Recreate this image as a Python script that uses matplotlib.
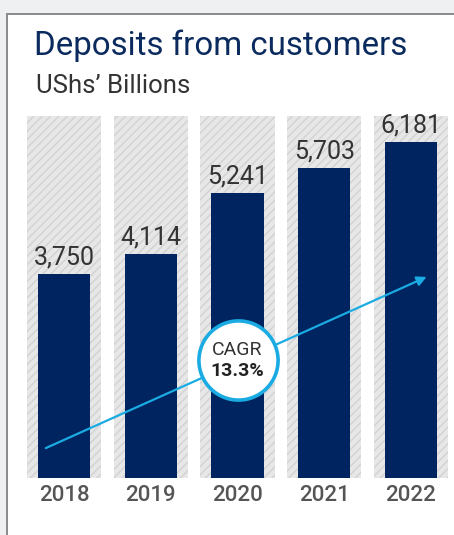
import matplotlib.pyplot as plt
from matplotlib.patches import Rectangle

years = ['2018', '2019', '2020', '2021', '2022']
deposits = [3750, 4114, 5241, 5703, 6181]
value_labels = ['3,750', '4,114', '5,241', '5,703', '6,181']
cagr_text = '13.3%'

NAVY = '#00245f'
CYAN = '#1aabe2'
TEXT = '#333333'

plt.rcParams['font.family'] = ['Roboto', 'DejaVu Sans']
plt.rcParams['hatch.color'] = '#d2d2d2'
plt.rcParams['hatch.linewidth'] = 1.0

W, H = 454, 535
fig = plt.figure(figsize=(W / 100, H / 100), dpi=100)
fig.patch.set_facecolor('#eff0f2')

# white card with a grey border, running off the right and bottom edges
card = Rectangle((6.5 / W, -0.05), 1.2, (H - 13.5) / H + 0.05,
                 transform=fig.transFigure, facecolor='white',
                 edgecolor='#8a8a8a', linewidth=1.4, zorder=-1)
fig.patches.append(card)

fig.text(34 / W, (H - 55) / H, 'Deposits from customers', fontsize=23.8,
         color='#0b2a5e', va='baseline', ha='left')
fig.text(36 / W, (H - 93) / H, 'UShs\u2019 Billions', fontsize=18.5,
         color=TEXT, va='baseline', ha='left')

# plotting area: bottom of bars at y=478px, top of backdrop at y=116px
ax = fig.add_axes([20.6 / W, (H - 478) / H, 433.8 / W, 362 / H])
ax.set_zorder(2)
ax.set_facecolor('none')
top = 6660
ax.set_xlim(-0.5, 4.5)
ax.set_ylim(0, top)

x = range(len(years))
ax.bar(x, [top] * len(years), width=0.853, color='#e7e7e7',
       hatch='////', linewidth=0, zorder=1)
ax.bar(x, deposits, width=0.6, color=NAVY, linewidth=0, zorder=2)

for xi, v, lab in zip(x, deposits, value_labels):
    ax.annotate(lab, (xi, v), xytext=(0, 7), textcoords='offset points',
                ha='center', va='baseline', fontsize=18, color=TEXT,
                clip_on=False, zorder=4)

# growth arrow with the CAGR badge
ax.annotate('', xy=(4.18, 3700), xytext=(-0.21, 550),
            arrowprops=dict(arrowstyle='-|>', color=CYAN, lw=1.6,
                            mutation_scale=14, shrinkA=0, shrinkB=0),
            zorder=3)
ax.plot([2.0], [2170], marker='o', markersize=57, markerfacecolor='white',
        markeredgecolor=CYAN, markeredgewidth=2.6, zorder=5, clip_on=False)
ax.text(2.0, 2190, 'CAGR', ha='center', va='bottom', fontsize=14,
        color=TEXT, zorder=6)
ax.text(2.0, 2140, cagr_text, ha='center', va='top', fontsize=14,
        color='#222222', fontweight='bold', zorder=6)

ax.set_xticks(list(x))
ax.set_xticklabels(years, fontsize=16, color='#555555', fontweight='medium')
ax.tick_params(axis='x', length=0, pad=5)
ax.set_yticks([])
for s in ax.spines.values():
    s.set_visible(False)

fig.savefig('out.png', dpi=100)
